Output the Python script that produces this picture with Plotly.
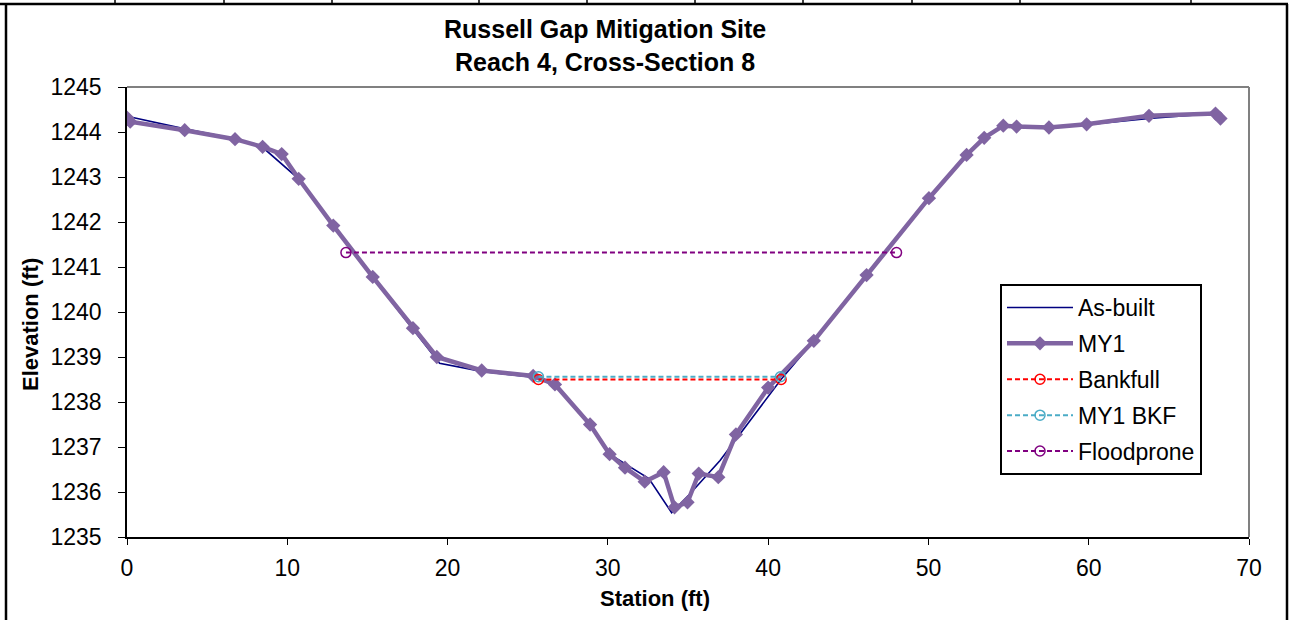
import plotly.graph_objects as go

# ---------------- data ----------------
asbuilt_x = [0.0, 3.6, 6.74, 8.46, 10.71, 12.87, 15.33, 17.84, 19.5, 22.13, 25.34, 26.7, 28.89,
             30.11, 31.47, 32.56, 33.98, 35.1, 37.0, 40.8, 42.85, 46.14, 50.03, 52.38, 53.48,
             54.67, 55.5, 57.52, 59.87, 63.76, 67.91]
asbuilt_y = [1244.35, 1244.07, 1243.85, 1243.66, 1242.96, 1241.90, 1240.76, 1239.62, 1238.86, 1238.68,
             1238.55, 1238.38, 1237.48, 1236.84, 1236.53, 1236.30, 1235.54, 1235.95, 1236.70, 1238.50,
             1239.36, 1240.80, 1242.52, 1243.48, 1243.86, 1244.13, 1244.12, 1244.10, 1244.16, 1244.30,
             1244.41]

my1_x = [0.0, 0.2, 3.6, 6.74, 8.46, 9.65, 10.71, 12.87, 15.33, 17.84, 19.33, 22.13, 25.34, 26.7,
         28.89, 30.11, 31.07, 32.3, 33.48, 34.16, 34.97, 35.67, 36.89, 37.99, 40.0, 42.85, 46.14,
         50.03, 52.38, 53.48, 54.67, 55.5, 57.52, 59.87, 63.76, 67.91, 68.22]
my1_y = [1244.32, 1244.23, 1244.04, 1243.84, 1243.67, 1243.51, 1242.96, 1241.92, 1240.78, 1239.64,
         1239.00, 1238.70, 1238.58, 1238.39, 1237.50, 1236.84, 1236.54, 1236.23, 1236.44, 1235.66,
         1235.77, 1236.41, 1236.33, 1237.28, 1238.32, 1239.36, 1240.82, 1242.53, 1243.49, 1243.87,
         1244.14, 1244.12, 1244.10, 1244.17, 1244.36, 1244.41, 1244.30]

bankfull_x = [25.67, 40.81]
bankfull_y = [1238.50, 1238.50]

my1bkf_x = [25.67, 40.77]
my1bkf_y = [1238.56, 1238.56]

flood_x = [13.66, 48.01]
flood_y = [1241.32, 1241.32]

title_lines = ["Russell Gap Mitigation Site", "Reach 4, Cross-Section 8"]
x_title = "Station (ft)"
y_title = "Elevation (ft)"
x_range = [0, 70]
y_range = [1235, 1245]

# ---------------- layout geometry ----------------
W, H = 1293, 620
L, R, T, B = 127, 1249, 87, 537  # plot area pixel box


def px(xp):
    return (xp - L) / (R - L)


def py(yp):
    return (B - yp) / (B - T)


FONT = "Arial, Liberation Sans, sans-serif"

fig = go.Figure()

fig.add_trace(go.Scatter(x=asbuilt_x, y=asbuilt_y, mode="lines", name="As-built",
                         line=dict(color="#000080", width=1.6), legendgroup="a"))
fig.add_trace(go.Scatter(x=my1_x, y=my1_y, mode="lines+markers", name="MY1",
                         line=dict(color="#8064A2", width=4.5),
                         marker=dict(symbol="diamond", size=11, color="#8064A2"),
                         legendgroup="b"))
fig.add_trace(go.Scatter(x=bankfull_x, y=bankfull_y, mode="lines+markers", name="Bankfull",
                         line=dict(color="#FF0000", width=2, dash="5px,3px"),
                         marker=dict(symbol="circle-open", size=10, color="#FF0000",
                                     line=dict(width=1.5)),
                         legendgroup="c"))
fig.add_trace(go.Scatter(x=my1bkf_x, y=my1bkf_y, mode="lines+markers", name="MY1 BKF",
                         line=dict(color="#4BACC6", width=2, dash="5px,3px"),
                         marker=dict(symbol="circle-open", size=10, color="#4BACC6",
                                     line=dict(width=1.5)),
                         legendgroup="d"))
fig.add_trace(go.Scatter(x=flood_x, y=flood_y, mode="lines+markers", name="Floodprone",
                         line=dict(color="#800080", width=2, dash="5px,3px"),
                         marker=dict(symbol="circle-open", size=10, color="#800080",
                                     line=dict(width=1.5)),
                         legendgroup="e"))

shapes = []
# grey plot-area border top & right
shapes.append(dict(type="line", xref="paper", yref="paper", x0=0, y0=1, x1=1, y1=1,
                   line=dict(color="#808080", width=2)))
shapes.append(dict(type="line", xref="paper", yref="paper", x0=1, y0=0, x1=1, y1=1,
                   line=dict(color="#808080", width=2)))
# outer frame
shapes.append(dict(type="line", xref="paper", yref="paper", x0=px(0), y0=py(4), x1=px(1288), y1=py(4),
                   line=dict(color="black", width=2.5)))
shapes.append(dict(type="line", xref="paper", yref="paper", x0=px(6), y0=py(4), x1=px(6), y1=py(625),
                   line=dict(color="black", width=2.5)))
shapes.append(dict(type="line", xref="paper", yref="paper", x0=px(1287), y0=py(4), x1=px(1287), y1=py(625),
                   line=dict(color="black", width=2.5)))
for xt in [115, 224, 332, 479, 587, 695, 803, 912, 1020, 1191]:
    shapes.append(dict(type="line", xref="paper", yref="paper", x0=px(xt), y0=py(-2), x1=px(xt), y1=py(4),
                       line=dict(color="black", width=1.5)))

annotations = [
    dict(text="<b>" + title_lines[0] + "</b><br><b>" + title_lines[1] + "</b>", xref="paper", yref="paper",
         x=px(605), y=py(45), xanchor="center", yanchor="middle", showarrow=False,
         font=dict(family=FONT, size=25, color="black")),
    dict(text="<b>" + x_title + "</b>", xref="paper", yref="paper", x=px(655), y=py(598),
         xanchor="center", yanchor="middle", showarrow=False,
         font=dict(family=FONT, size=22, color="black")),
    dict(text="<b>" + y_title + "</b>", xref="paper", yref="paper", x=px(30), y=py(325),
         xanchor="center", yanchor="middle", showarrow=False, textangle=-90,
         font=dict(family=FONT, size=22, color="black")),
]

fig.update_layout(
    width=W, height=H,
    margin=dict(l=L, r=W - R, t=T, b=H - B, pad=0),
    paper_bgcolor="white", plot_bgcolor="white",
    font=dict(family=FONT, size=23, color="black"),
    shapes=shapes, annotations=annotations,
    showlegend=True,
    legend=dict(x=px(1000), y=py(284), xanchor="left", yanchor="top",
                bgcolor="white", bordercolor="black", borderwidth=2,
                font=dict(family=FONT, size=23, color="black"),
                traceorder="grouped", tracegroupgap=3, itemwidth=66),
)
fig.update_xaxes(range=x_range, dtick=10, tick0=0, showgrid=False, zeroline=False,
                 showline=True, linecolor="black", linewidth=1.5,
                 ticks="outside", ticklen=6, tickcolor="black", tickwidth=1.2,
                 ticklabelstandoff=4,
                 tickfont=dict(family=FONT, size=23, color="black"))
fig.update_yaxes(range=y_range, dtick=1, tick0=1235, showgrid=False, zeroline=False,
                 showline=True, linecolor="black", linewidth=1.5,
                 ticks="outside", ticklen=7, tickcolor="black", tickwidth=1.2,
                 tickformat="d", ticklabelstandoff=12,
                 tickfont=dict(family=FONT, size=23, color="black"))

fig.write_html("out.html", config={"displayModeBar": False})

# remove default page margin so the figure sits at the page origin
with open("out.html", "r", encoding="utf-8") as f:
    html = f.read()
html = html.replace("<head>", "<head><style>html,body{margin:0;padding:0;overflow:hidden;}</style>", 1)
with open("out.html", "w", encoding="utf-8") as f:
    f.write(html)
